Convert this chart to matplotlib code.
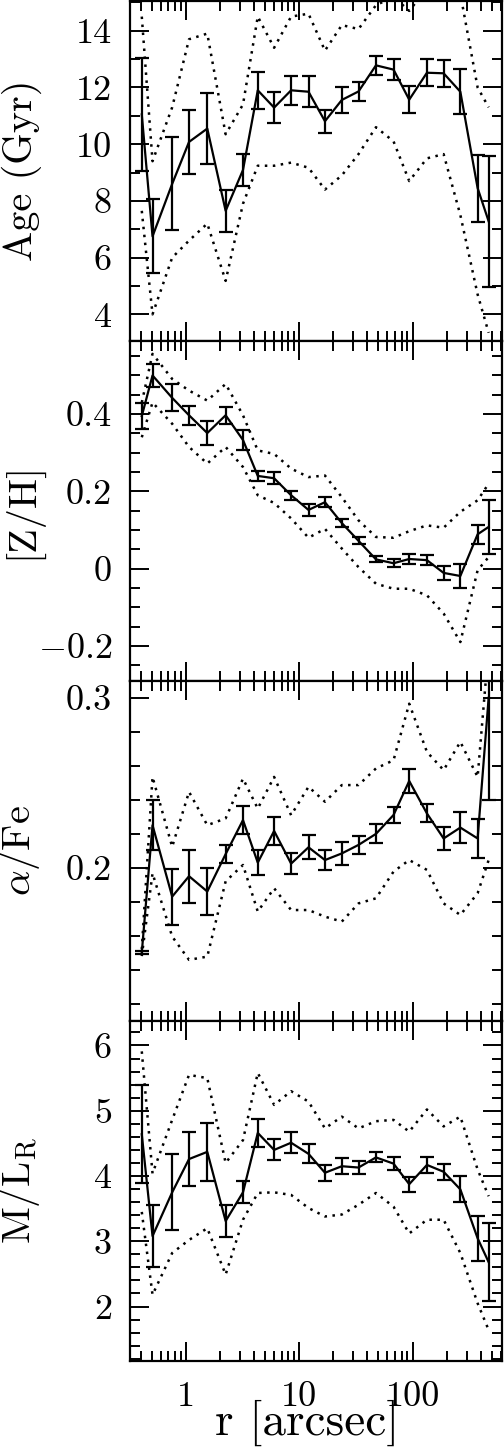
import numpy as np
import matplotlib
matplotlib.use('Agg')
import matplotlib.pyplot as plt
from matplotlib.ticker import MultipleLocator, FixedLocator, FixedFormatter, LogLocator, NullFormatter

plt.rcParams['font.family'] = ['cmr10', 'DejaVu Serif']
plt.rcParams['mathtext.fontset'] = 'cm'
plt.rcParams['axes.unicode_minus'] = False

# radius of each bin (arcsec)
r = [0.41, 0.51, 0.76, 1.07, 1.55, 2.25, 3.2, 4.32, 6.02, 8.5, 12.1, 16.9,
     23.8, 33.4, 47.6, 68, 93.5, 134, 188, 264, 375, 469]

# Age (Gyr)
age = [11.05, 6.75, 8.6, 10.08, 10.55, 7.65, 9.09, 11.9, 11.29, 11.9, 11.85, 10.81,
       11.56, 11.86, 12.78, 12.63, 11.57, 12.52, 12.5, 11.85, 8.45, 7.28]
age_err = [1.99, 1.3, 1.64, 1.13, 1.25, 0.73, 0.56, 0.66, 0.56, 0.52, 0.55, 0.41,
           0.46, 0.34, 0.34, 0.36, 0.47, 0.48, 0.47, 0.79, 1.18, 2.32]
age_hi = [14.5, 9.4, 11.3, 13.7, 13.9, 10.35, 11.4, 14.5, 13.4, 14.5, 14.6, 13.3,
          14.2, 14.06, 14.9, 15.2, 14.7, 15.5, 15.6, 15.3, 12.0, 11.3]
age_lo = [7.65, 4.0, 6.0, 6.6, 7.2, 5.18, 7.9, 9.24, 9.24, 9.35, 9.17, 8.4,
          8.9, 9.65, 10.6, 10.1, 8.7, 9.5, 9.65, 7.5, 4.7, 3.35]

# [Z/H]
zh = [0.395, 0.5, 0.442, 0.397, 0.351, 0.397, 0.333, 0.24, 0.234, 0.19, 0.152, 0.172,
      0.118, 0.072, 0.024, 0.014, 0.025, 0.022, -0.011, -0.019, 0.089, 0.108]
zh_err = [0.033, 0.03, 0.035, 0.024, 0.03, 0.022, 0.025, 0.014, 0.016, 0.012, 0.016, 0.013,
          0.01, 0.009, 0.008, 0.01, 0.012, 0.013, 0.018, 0.03, 0.025, 0.07]
zh_hi = [0.43, 0.556, 0.491, 0.461, 0.435, 0.478, 0.397, 0.306, 0.297, 0.259, 0.237, 0.241,
         0.185, 0.125, 0.082, 0.08, 0.097, 0.112, 0.106, 0.147, 0.177, 0.22]
zh_lo = [0.34, 0.43, 0.375, 0.315, 0.272, 0.315, 0.263, 0.19, 0.17, 0.13, 0.08, 0.103,
         0.052, 0.004, -0.039, -0.052, -0.052, -0.069, -0.116, -0.19, -0.004, 0.03]

# alpha/Fe
afe = [0.150, 0.225, 0.183, 0.195, 0.186, 0.208, 0.228, 0.203, 0.2216, 0.2024, 0.212, 0.2045,
       0.2084, 0.2134, 0.2199, 0.231, 0.251, 0.2319, 0.2172, 0.2236, 0.2172, 0.300]
afe_err = [0.001, 0.0147, 0.0165, 0.0156, 0.014, 0.0055, 0.0084, 0.0075, 0.0083, 0.006, 0.007, 0.006,
           0.007, 0.0054, 0.0056, 0.0047, 0.0073, 0.0053, 0.0068, 0.0093, 0.0117, 0.06]
afe_hi = [0.152, 0.2534, 0.2123, 0.2446, 0.225, 0.229, 0.2524, 0.2348, 0.2534, 0.2309, 0.2476, 0.2388,
          0.2486, 0.2486, 0.2584, 0.2632, 0.2965, 0.2681, 0.2574, 0.274, 0.2534, 0.33]
afe_lo = [0.148, 0.1967, 0.1595, 0.1458, 0.1477, 0.192, 0.2016, 0.1742, 0.1879, 0.1751, 0.1751, 0.1712,
          0.1683, 0.179, 0.182, 0.1977, 0.2045, 0.1987, 0.179, 0.1722, 0.185, 0.2045]

# M/L_R
ml = [4.64, 3.08, 3.75, 4.26, 4.37, 3.31, 3.75, 4.66, 4.40, 4.51, 4.34, 4.05,
      4.15, 4.13, 4.285, 4.19, 3.875, 4.17, 4.065, 3.795, 3.045, 2.68]
ml_err = [0.75, 0.47, 0.58, 0.41, 0.44, 0.245, 0.17, 0.22, 0.16, 0.16, 0.145, 0.12,
          0.12, 0.105, 0.077, 0.097, 0.115, 0.128, 0.122, 0.2, 0.34, 0.6]
ml_hi = [5.91, 4.04, 4.86, 5.55, 5.5, 4.2, 4.55, 5.58, 5.09, 5.3, 5.14, 4.73,
         4.91, 4.73, 4.84, 4.86, 4.68, 5.02, 4.76, 4.91, 4.1, 3.69]
ml_lo = [3.45, 2.18, 2.82, 3.02, 3.2, 2.49, 3.33, 3.74, 3.75, 3.71, 3.51, 3.38,
         3.41, 3.56, 3.74, 3.53, 3.12, 3.33, 3.33, 2.82, 2.05, 1.64]

ylabels = [r'Age (Gyr)', r'[Z/H]', r'$\alpha$/Fe', r'M/L$_\mathrm{R}$']
yticks = [[4, 6, 8, 10, 12, 14], [-0.2, 0, 0.2, 0.4], [0.2, 0.3], [2, 3, 4, 5, 6]]
yticklabels = [['4', '6', '8', '10', '12', '14'], [r'$-$0.2', '0', '0.2', '0.4'],
               ['0.2', '0.3'], ['2', '3', '4', '5', '6']]
yminor = [1, 0.05, 0.02, 0.2]
ylims = [(3.07, 15.06), (-0.29, 0.59), (0.11, 0.31), (1.17, 6.38)]
xticks = [1, 10, 100]
xticklabels = ['1', '10', '100']

panels = [(age, age_err, age_hi, age_lo), (zh, zh_err, zh_hi, zh_lo),
          (afe, afe_err, afe_hi, afe_lo), (ml, ml_err, ml_hi, ml_lo)]

fig = plt.figure(figsize=(5.04, 14.48), dpi=100)
W, H = 504.0, 1448.0
left, right = 130 / W, 502 / W
ph = 340.0 / H
bottom0 = 1 - 1360.7 / H

for i, (val, err, hi, lo) in enumerate(panels):
    ax = fig.add_axes([left, bottom0 + (3 - i) * ph, right - left, ph])
    ax.plot(r, hi, color='k', lw=1.8, linestyle=(0, (1, 2.2)))
    ax.plot(r, lo, color='k', lw=1.8, linestyle=(0, (1, 2.2)))
    ax.errorbar(r, val, yerr=err, fmt='-', color='k', lw=1.6, elinewidth=1.6,
                capsize=4.8, capthick=1.6)
    ax.set_xscale('log')
    ax.set_xlim(0.3228, 615)
    ax.set_ylim(*ylims[i])
    ax.yaxis.set_major_locator(FixedLocator(yticks[i]))
    ax.yaxis.set_major_formatter(FixedFormatter(yticklabels[i]))
    ax.yaxis.set_minor_locator(MultipleLocator(yminor[i]))
    ax.xaxis.set_major_locator(FixedLocator(xticks))
    ax.xaxis.set_minor_locator(LogLocator(base=10, subs=np.arange(2, 10)))
    ax.xaxis.set_minor_formatter(NullFormatter())
    if i == 3:
        ax.xaxis.set_major_formatter(FixedFormatter(xticklabels))
        ax.set_xlabel('r [arcsec]', fontsize=34, va='bottom')
        ax.xaxis.set_label_coords(0.475, -0.25)
    else:
        ax.xaxis.set_major_formatter(NullFormatter())
    ax.tick_params(which='both', direction='in', top=True, right=True, width=1.4)
    ax.tick_params(which='major', length=13.5, labelsize=26)
    ax.tick_params(which='minor', length=7)
    ax.tick_params(axis='y', which='major', pad=13)
    ax.tick_params(axis='x', which='major', pad=15)
    for s in ax.spines.values():
        s.set_linewidth(1.6)
    ax.set_ylabel(ylabels[i], fontsize=29)
    ax.yaxis.set_label_coords(-0.237, 0.5)

fig.savefig('out.png', dpi=100)
